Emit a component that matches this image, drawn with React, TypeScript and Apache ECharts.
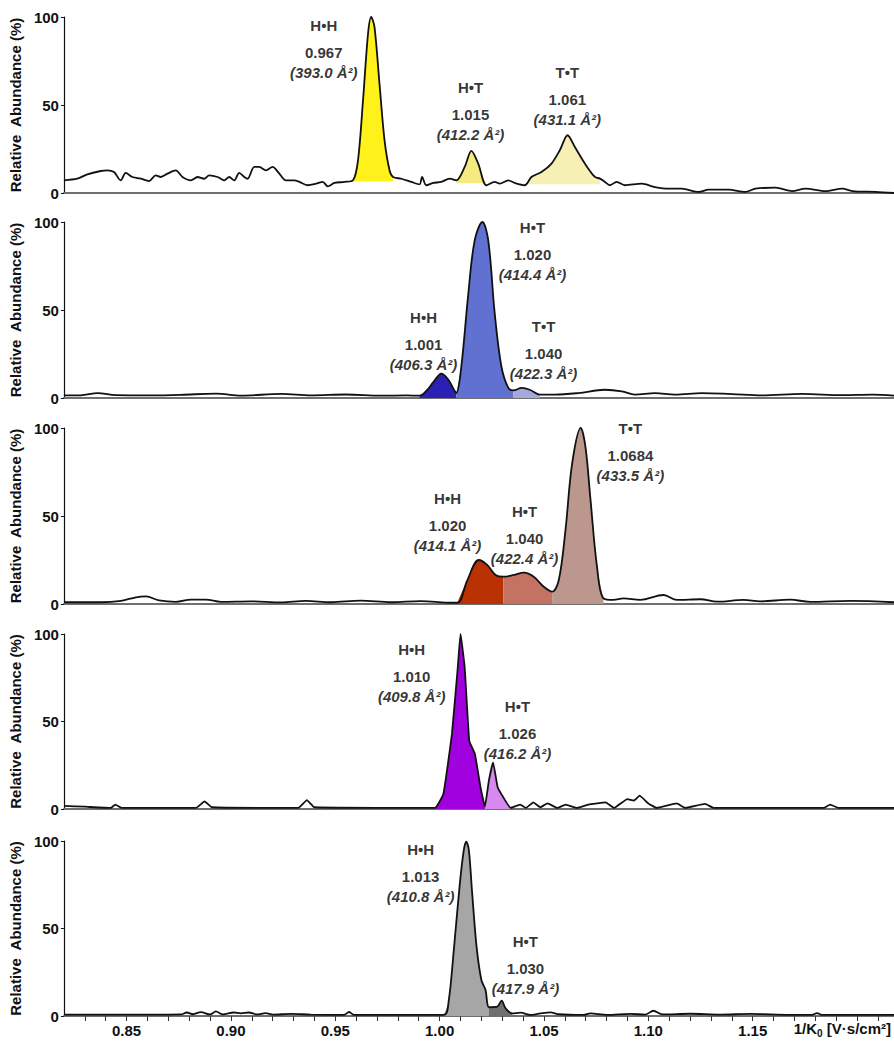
import React, { useEffect, useRef } from 'react';
import * as echarts from 'echarts';

// ---------- axis settings ----------
const X_MIN = 0.82;
const X_MAX = 1.2177;
const X_TICK = 0.01;
const X_LABELS = [0.85, 0.9, 0.95, 1.0, 1.05, 1.1, 1.15];
const Y_TICKS = [0, 50, 100];

// ---------- traces (1/K0, relative abundance %) ----------
const trace1: number[][] = [
  [0.8200, 7.2], [0.8264, 8.1], [0.8312, 10.6], [0.8376, 12.5], [0.8408, 12.9], [0.8440, 11.9], [0.8472, 7.2],
  [0.8496, 11.4], [0.8528, 9.1], [0.8568, 8.1], [0.8608, 6.8], [0.8640, 10], [0.8664, 9.1], [0.8696, 11],
  [0.8736, 12.9], [0.8768, 9.1], [0.8808, 7.2], [0.8840, 9.1], [0.8872, 8.1], [0.8896, 10], [0.8936, 9.1],
  [0.8968, 7.2], [0.8992, 9.1], [0.9016, 7.2], [0.9040, 11.4], [0.9064, 9.1], [0.9080, 8.1], [0.9112, 14.8],
  [0.9136, 14.8], [0.9168, 12.9], [0.9200, 14.8], [0.9232, 11], [0.9264, 7.2], [0.9304, 7.2], [0.9328, 6.3],
  [0.9368, 4.4], [0.9408, 5.3], [0.9440, 6.3], [0.9464, 3.8], [0.9496, 5.7], [0.9544, 6.3], [0.9585, 7.2],
  [0.9609, 18.6], [0.9633, 52.7], [0.9657, 90.5], [0.9672, 100], [0.9688, 94.3], [0.9712, 62], [0.9736, 30],
  [0.9760, 12.9], [0.9777, 9.1], [0.9816, 8.1], [0.9864, 6.3], [0.9904, 4.9], [0.9916, 9.1], [0.9936, 4.4],
  [0.9969, 5.7], [1.0008, 6.3], [1.0048, 8.2], [1.0080, 7.2], [1.0120, 14.8], [1.0152, 23.9], [1.0185, 16.7],
  [1.0224, 4.4], [1.0264, 6.3], [1.0288, 5.3], [1.0329, 7.2], [1.0360, 5.7], [1.0408, 4.4], [1.0440, 9.1],
  [1.0488, 11.9], [1.0536, 16.7], [1.0576, 24.3], [1.0613, 32.8], [1.0648, 26.1], [1.0696, 16.7], [1.0744, 9.1],
  [1.0768, 8.2], [1.0792, 6.3], [1.0816, 4.4], [1.0848, 6.3], [1.0888, 4.4], [1.0968, 5.3], [1.1032, 3.4],
  [1.1097, 2.5], [1.1160, 2.5], [1.1241, 0.6], [1.1289, 1.9], [1.1385, 1.9], [1.1465, 0.6], [1.1513, 2.5],
  [1.1609, 3], [1.1689, 1.1], [1.1753, 2.5], [1.1849, 1.1], [1.1929, 2.5], [1.1977, 1.1], [1.2089, 0.6], [1.2177, 0],
];

const trace2: number[][] = [
  [0.8200, 1.5], [0.8280, 1.5], [0.8362, 2.8], [0.8449, 1.6], [0.8616, 1.5], [0.8760, 1.8], [0.8929, 2.5],
  [0.9049, 1.4], [0.9241, 2.3], [0.9384, 1.5], [0.9552, 2.0], [0.9720, 1.3], [0.9840, 1.5], [0.9904, 1.3],
  [0.9936, 4], [0.9970, 9], [1.0008, 13.8], [1.0042, 10.4], [1.0064, 5.7], [1.0080, 2.8], [1.0104, 17.9],
  [1.0136, 57.5], [1.0168, 89.6], [1.0205, 100], [1.0233, 89.6], [1.0264, 48.1], [1.0296, 17.9], [1.0329, 5.7],
  [1.0353, 4.3], [1.0393, 5.7], [1.0432, 4.7], [1.0480, 1.9], [1.0552, 1.9], [1.0665, 2.8], [1.0792, 4.7],
  [1.0873, 3.8], [1.0936, 1.9], [1.1032, 2.8], [1.1128, 1.9], [1.1257, 2.8], [1.1401, 2.2], [1.1545, 1.5],
  [1.1737, 2.3], [1.1929, 1.6], [1.2073, 1.9], [1.2177, 1.3],
];

const trace3: number[][] = [
  [0.8201, 1.0], [0.8378, 1.0], [0.8474, 1.8], [0.8545, 3.8], [0.8593, 4.3], [0.8656, 2.0], [0.8737, 1.2],
  [0.8809, 2.5], [0.8880, 2.5], [0.8952, 1.2], [0.9096, 1.5], [0.9239, 0.9], [0.9359, 1.8], [0.9478, 1.0],
  [0.9622, 1.9], [0.9766, 1.0], [0.9909, 1.6], [1.0029, 0.8], [1.0085, 0.7], [1.0133, 13.6], [1.0188, 25],
  [1.0228, 22.2], [1.0268, 16.5], [1.0305, 15.5], [1.0356, 16.5], [1.0403, 17.8], [1.0451, 15.5], [1.0499, 9.8],
  [1.0539, 7], [1.0571, 13.6], [1.0603, 42], [1.0635, 79.9], [1.0676, 100], [1.0699, 89], [1.0722, 60.4],
  [1.0754, 21.2], [1.0785, 3.2], [1.0833, 2.3], [1.0881, 3.2], [1.0961, 2.3], [1.1073, 5.1], [1.1137, 2.3],
  [1.1249, 2.7], [1.1329, 1.3], [1.1456, 2.3], [1.1536, 1.5], [1.1679, 2.5], [1.1775, 1.2], [1.1967, 1.8],
  [1.2177, 1.0],
];

const trace4: number[][] = [
  [0.8201, 1.8], [0.8300, 1.3], [0.8424, 0.6], [0.8446, 2.5], [0.8478, 0.6], [0.8833, 0.6], [0.8874, 4.4],
  [0.8909, 1.0], [0.9323, 0.6], [0.9364, 5.1], [0.9400, 1.0], [0.9978, 0.6], [1.0018, 8.6], [1.0059, 42.9],
  [1.0087, 81], [1.0100, 100], [1.0120, 81], [1.0142, 39], [1.0169, 31.4], [1.0196, 12.4], [1.0217, 1.3],
  [1.0236, 16.2], [1.0256, 26.7], [1.0278, 12.4], [1.0305, 6.7], [1.0340, 0.6], [1.0386, 2.5], [1.0413, 0.6],
  [1.0449, 3.8], [1.0482, 1.0], [1.0517, 3.2], [1.0563, 0.6], [1.0604, 2.5], [1.0659, 0.6], [1.0713, 2.5],
  [1.0754, 3.2], [1.0795, 3.8], [1.0836, 0.6], [1.0899, 5.7], [1.0931, 4.8], [1.0958, 7.6], [1.1000, 3.2],
  [1.1040, 0.6], [1.1136, 3.2], [1.1177, 0.6], [1.1272, 2.9], [1.1313, 0.6], [1.1840, 0.6], [1.1871, 2.5],
  [1.1912, 0.6], [1.2177, 0.6],
];

const trace5: number[][] = [
  [0.8201, 0.8], [0.8617, 0.8], [0.8761, 0.9], [0.8789, 2.0], [0.8818, 1.0], [0.8856, 2.2], [0.8900, 0.9],
  [0.8928, 2.6], [0.8962, 0.9], [0.9014, 2.0], [0.9048, 1.5], [0.9086, 2.0], [0.9124, 0.9], [0.9167, 1.6],
  [0.9201, 0.8], [0.9287, 1.2], [0.9383, 0.8], [0.9542, 0.6], [0.9566, 2.3], [0.9590, 0.6], [0.9718, 0.6],
  [1.0021, 0.6], [1.0044, 9.1], [1.0068, 37.7], [1.0097, 75.8], [1.0116, 94.9], [1.0128, 99.6], [1.0140, 94.9],
  [1.0156, 70.1], [1.0177, 39.6], [1.0200, 20.6], [1.0220, 14.9], [1.0236, 5], [1.0276, 5.3], [1.0297, 8.8],
  [1.0316, 4.4], [1.0348, 1.5], [1.0388, 1.9], [1.0435, 0.6], [1.0483, 1.5], [1.0531, 2.1], [1.0571, 1.0],
  [1.0690, 0.6], [1.0722, 1.5], [1.0802, 0.6], [1.0914, 1.2], [1.0986, 0.8], [1.1024, 3.0], [1.1067, 0.9],
  [1.1201, 1.3], [1.1344, 0.8], [1.1488, 1.2], [1.1679, 0.7], [1.1784, 0.7], [1.1808, 1.6], [1.1832, 0.7],
  [1.2014, 0.7], [1.2177, 0.6],
];

// ---------- filled peak regions: [start, end] on the 1/K0 axis ----------
const fillRanges1 = [[0.9585, 0.9777], [1.0080, 1.0224], [1.0408, 1.0768]];
const fillRanges2 = [[0.9904, 1.0080], [1.0080, 1.0353], [1.0353, 1.0480]];
const fillRanges3 = [[1.0085, 1.0305], [1.0305, 1.0539], [1.0539, 1.0785]];
const fillRanges4 = [[0.9978, 1.0217], [1.0217, 1.0340]];
const fillRanges5 = [[1.0021, 1.0236], [1.0236, 1.0348]];
const fillBase1 = [6.5, 5.5, 5];

// ---------- peak annotations ----------
const annNames1 = ['H•H', 'H•T', 'T•T'];
const annK01 = ['0.967', '1.015', '1.061'];
const annCcs1 = ['(393.0 Å²)', '(412.2 Å²)', '(431.1 Å²)'];
const annNames2 = ['H•H', 'H•T', 'T•T'];
const annK02 = ['1.001', '1.020', '1.040'];
const annCcs2 = ['(406.3 Å²)', '(414.4 Å²)', '(422.3 Å²)'];
const annNames3 = ['H•H', 'H•T', 'T•T'];
const annK03 = ['1.020', '1.040', '1.0684'];
const annCcs3 = ['(414.1 Å²)', '(422.4 Å²)', '(433.5 Å²)'];
const annNames4 = ['H•H', 'H•T'];
const annK04 = ['1.010', '1.026'];
const annCcs4 = ['(409.8 Å²)', '(416.2 Å²)'];
const annNames5 = ['H•H', 'H•T'];
const annK05 = ['1.013', '1.030'];
const annCcs5 = ['(410.8 Å²)', '(417.9 Å²)'];
// annotation anchor (x on 1/K0 axis, y on abundance axis) of the first text line
const annPos1 = [[0.9445, 95.3], [1.0148, 60], [1.0612, 68.6]];
const annPos2 = [[0.9923, 46], [1.0445, 97], [1.0498, 40.4]];
const annPos3 = [[1.0038, 60.2], [1.0407, 52.8], [1.0914, 100]];
const annPos4 = [[0.9866, 90.9], [1.0373, 58.3]];
const annPos5 = [[0.9909, 94.9], [1.0411, 42.3]];

const Y_NAME = 'Relative  Abundance (%)';

const FONT = "'Liberation Sans', Arial, Helvetica, sans-serif";
const TXT = '#111111';

const panels = [
  { trace: trace1, fills: fillRanges1, colors: ['#FFF21A', '#F4EA80', '#F7F0B4'], base: fillBase1, names: annNames1, k0: annK01, ccs: annCcs1, pos: annPos1, smooth: 0.3 },
  { trace: trace2, fills: fillRanges2, colors: ['#2B20B4', '#6171D1', '#A3A9D9'], base: [0, 0, 0], names: annNames2, k0: annK02, ccs: annCcs2, pos: annPos2, smooth: 0.35 },
  { trace: trace3, fills: fillRanges3, colors: ['#BA3203', '#C47363', '#BB978D'], base: [0, 0, 0], names: annNames3, k0: annK03, ccs: annCcs3, pos: annPos3, smooth: 0.35 },
  { trace: trace4, fills: fillRanges4, colors: ['#A100DF', '#D78AEE'], base: [0, 0], names: annNames4, k0: annK04, ccs: annCcs4, pos: annPos4, smooth: 0.1 },
  { trace: trace5, fills: fillRanges5, colors: ['#A6A6A6', '#6F6F6F'], base: [0, 0], names: annNames5, k0: annK05, ccs: annCcs5, pos: annPos5, smooth: 0.3 },
];

const GRID_TOPS = [17, 222, 428, 634, 841];
const GRID_HEIGHTS = [176, 176, 176, 175, 175];

function buildOption() {
  const grid: any[] = [];
  const xAxis: any[] = [];
  const yAxis: any[] = [];
  const series: any[] = [];
  const last = panels.length - 1;

  panels.forEach((p, i) => {
    grid.push({ left: 63, right: 0, top: GRID_TOPS[i], height: GRID_HEIGHTS[i] });
    const isLast = i === last;
    xAxis.push({
      type: 'value', gridIndex: i, min: X_MIN, max: X_MAX, interval: X_TICK,
      axisLine: { show: true, onZero: false, lineStyle: { color: '#707070', width: 2 } },
      axisTick: { show: isLast, length: 5, lineStyle: { color: '#333', width: 1 } },
      axisLabel: {
        show: isLast, margin: 7, color: TXT, fontWeight: 'bold', fontSize: 15, fontFamily: FONT,
        showMinLabel: false, showMaxLabel: false,
        formatter: (v: number) => {
          const hit = X_LABELS.find((t) => Math.abs(t - v) < 1e-6);
          return hit !== undefined ? hit.toFixed(2) : '';
        },
      },
      splitLine: { show: false },
    });
    yAxis.push({
      type: 'value', gridIndex: i, min: Y_TICKS[0], max: Y_TICKS[2], interval: Y_TICKS[1] - Y_TICKS[0],
      name: Y_NAME, nameLocation: 'middle', nameGap: 38,
      nameTextStyle: { color: TXT, fontWeight: 'bold', fontSize: 15, fontFamily: FONT },
      axisLine: { show: true, lineStyle: { color: '#111', width: 1.2 } },
      axisTick: { show: true, length: 3, lineStyle: { color: '#111' } },
      axisLabel: { margin: 5, color: TXT, fontWeight: 'bold', fontSize: 15, fontFamily: FONT },
      splitLine: { show: false },
    });

    p.fills.forEach((r, k) => {
      series.push({
        type: 'line', xAxisIndex: i, yAxisIndex: i, silent: true, z: 1,
        smooth: p.smooth, symbol: 'none',
        data: p.trace.filter((d) => d[0] >= r[0] - 1e-9 && d[0] <= r[1] + 1e-9),
        lineStyle: { width: 0 },
        areaStyle: { color: p.colors[k], opacity: 1, origin: p.base[k] },
      });
    });

    series.push({
      type: 'line', xAxisIndex: i, yAxisIndex: i, silent: true, z: 3,
      smooth: p.smooth, symbol: 'none', data: p.trace,
      lineStyle: { color: '#111111', width: 1.8 },
    });

    const annData: any[] = [];
    p.names.forEach((nm, k) => {
      const [ax, ay] = p.pos[k];
      annData.push({ value: [ax, ay], label: { formatter: nm, offset: [0, 0] } });
      annData.push({ value: [ax, ay], label: { formatter: p.k0[k], offset: [0, 27] } });
      annData.push({ value: [ax, ay], label: { formatter: p.ccs[k], offset: [0, 47], fontStyle: 'italic' } });
    });
    series.push({
      type: 'scatter', xAxisIndex: i, yAxisIndex: i, silent: true, z: 5, clip: false,
      symbolSize: 0, data: annData,
      label: { show: true, position: 'inside', color: '#000', fontWeight: 'bold', fontSize: 15, fontFamily: FONT },
    });
  });

  return {
    animation: false,
    backgroundColor: '#ffffff',
    grid, xAxis, yAxis, series,
    graphic: [
      {
        type: 'text', right: 3, top: 1021,
        style: {
          text: '{a|1/K}{s|0}{a| [V·s/cm²]}',
          rich: {
            a: { fontSize: 15, fontWeight: 'bold', fontFamily: FONT, fill: TXT },
            s: { fontSize: 10, fontWeight: 'bold', fontFamily: FONT, fill: TXT, padding: [9, 0, 0, 0] },
          },
        },
      },
    ],
  };
}

export default function App() {
  const ref = useRef<HTMLDivElement>(null);
  useEffect(() => {
    if (!ref.current) return;
    const chart = echarts.init(ref.current, undefined, { renderer: 'svg' });
    chart.setOption(buildOption() as any);
    return () => chart.dispose();
  }, []);
  return (
    <div
      ref={ref}
      style={{ position: 'absolute', left: 0, top: 0, width: 894, height: 1041, background: '#fff' }}
    />
  );
}
